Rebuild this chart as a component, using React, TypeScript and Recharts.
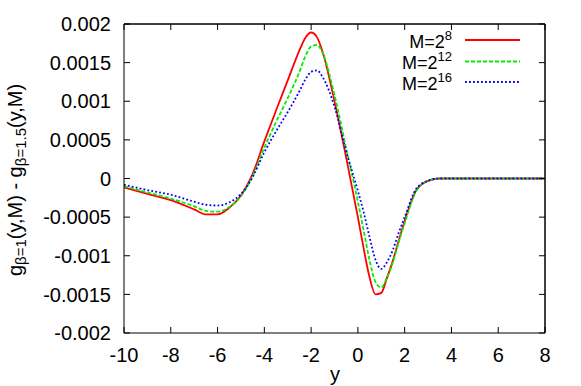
import React from 'react';
import { LineChart, Line, XAxis, YAxis, CartesianGrid } from 'recharts';

// sample positions along the horizontal axis (labelled "y" in the figure)
const yValues = [-10, -9, -8, -7, -6.5, -6, -5.5, -5, -4.5, -4, -3.5, -3, -2.5, -2.25, -2, -1.75, -1.5, -1, -0.5, 0, 0.25, 0.5, 0.75, 1, 1.25, 1.5, 1.75, 2, 2.5, 3, 3.5, 4, 5, 6, 7, 8];

const m8 = [-0.000115, -0.0002, -0.00028, -0.0004, -0.000465, -0.000465, -0.00038, -0.00022, 0.00006, 0.00048, 0.00088, 0.00127, 0.00166, 0.00182, 0.00189, 0.00183, 0.00163, 0.001, 0.00027, -0.0005, -0.00091, -0.00128, -0.0015, -0.00148, -0.00128, -0.00106, -0.0008, -0.00055, -0.00015, -0.00003, 0, 0, 0, 0, 0, 0];
const m12 = [-0.0001, -0.00018, -0.00026, -0.00036, -0.00042, -0.00043, -0.00037, -0.00023, 0.00003, 0.0004, 0.00073, 0.00104, 0.00138, 0.00158, 0.00171, 0.00173, 0.00162, 0.00108, 0.00039, -0.0003, -0.00068, -0.00106, -0.00134, -0.00141, -0.00128, -0.00108, -0.00082, -0.00058, -0.00016, -0.00003, 0, 0, 0, 0, 0, 0];
const m16 = [-0.00008, -0.00015, -0.00021, -0.0003, -0.00034, -0.00035, -0.00031, -0.0002, 0.00002, 0.00034, 0.00061, 0.00086, 0.00113, 0.00128, 0.00138, 0.0014, 0.00131, 0.00093, 0.00035, -0.00016, -0.00044, -0.00076, -0.00105, -0.00117, -0.00108, -0.00092, -0.0007, -0.0005, -0.00013, -0.00003, 0, 0, 0, 0, 0, 0];

const xTicks = [-10, -8, -6, -4, -2, 0, 2, 4, 6, 8];
const yTicks = [-0.002, -0.0015, -0.001, -0.0005, 0, 0.0005, 0.001, 0.0015, 0.002];

const data = yValues.map((y, i) => ({ y, m8: m8[i], m12: m12[i], m16: m16[i] }));

const W = 581, H = 386;
const MARGIN = { top: 24, right: 36, bottom: 0, left: 123 };
const Y_AXIS_W = 1;
const X_AXIS_H = 53;
const PLOT_X = MARGIN.left + Y_AXIS_W;
const PLOT_Y = MARGIN.top;
const PLOT_W = W - PLOT_X - MARGIN.right;
const PLOT_H = H - MARGIN.top - X_AXIS_H;

const font = '"Liberation Sans", Arial, sans-serif';
const FS = 20;
const TICK = 6;
const BOTTOM_GAP = 15;
const LEFT_GAP = 13;

// gnuplot style: ticks point into the plot and are mirrored on top / right
const BottomTick = (p: any) => {
  const base = p.y - BOTTOM_GAP;
  return (
    <g>
      <line x1={p.x} x2={p.x} y1={base} y2={base - TICK} stroke="#000" />
      <line x1={p.x} x2={p.x} y1={base - PLOT_H} y2={base - PLOT_H + TICK} stroke="#000" />
      <text x={p.x} y={p.y} dy="0.72em" textAnchor="middle" fontSize={FS} fontFamily={font} fill="#000">{p.payload.value}</text>
    </g>
  );
};
const LeftTick = (p: any) => {
  const base = p.x + LEFT_GAP;
  return (
    <g>
      <line x1={base} x2={base + TICK} y1={p.y} y2={p.y} stroke="#000" />
      <line x1={base + PLOT_W} x2={base + PLOT_W - TICK} y1={p.y} y2={p.y} stroke="#000" />
      <text x={p.x} y={p.y} dy="0.36em" textAnchor="end" fontSize={FS} fontFamily={font} fill="#000">{p.payload.value}</text>
    </g>
  );
};

export default function App() {
  return (
    <div style={{ position: 'absolute', left: 0, top: 0, width: W, height: H, background: '#fff' }}>
      <LineChart width={W} height={H} data={data} margin={MARGIN}>
        <CartesianGrid
          stroke="#000"
          strokeDasharray=""
          horizontalPoints={[PLOT_Y]}
          verticalPoints={[PLOT_X + PLOT_W]}
        />
        <XAxis
          dataKey="y"
          type="number"
          domain={[-10, 8]}
          ticks={xTicks}
          height={X_AXIS_H}
          tick={<BottomTick />}
          tickLine={false}
          tickSize={0}
          tickMargin={BOTTOM_GAP}
          axisLine={{ stroke: '#000' }}
          interval={0}
        />
        <YAxis
          type="number"
          domain={[-0.002, 0.002]}
          ticks={yTicks}
          width={Y_AXIS_W}
          tick={<LeftTick />}
          tickLine={false}
          tickSize={0}
          tickMargin={LEFT_GAP}
          axisLine={{ stroke: '#000' }}
          interval={0}
          allowDataOverflow
        />
        <Line dataKey="m8" type="monotone" stroke="#ff0000" strokeWidth={1.8} dot={false} isAnimationActive={false} />
        <Line dataKey="m12" type="monotone" stroke="#00ee00" strokeWidth={1.8} strokeDasharray="4 2" dot={false} isAnimationActive={false} />
        <Line dataKey="m16" type="monotone" stroke="#0000ff" strokeWidth={1.8} strokeDasharray="1.8 2.2" dot={false} isAnimationActive={false} />
      </LineChart>
      <svg width={W} height={H} style={{ position: 'absolute', left: 0, top: 0, pointerEvents: 'none' }}>
        <line x1={PLOT_X} x2={PLOT_X + PLOT_W} y1={PLOT_Y} y2={PLOT_Y} stroke="#000" strokeWidth={1} />
        <line x1={PLOT_X + PLOT_W} x2={PLOT_X + PLOT_W} y1={PLOT_Y} y2={PLOT_Y + PLOT_H} stroke="#000" strokeWidth={1} />
        <g fontFamily={font} fill="#000">
          <text x={452} y={48} fontSize={18} textAnchor="end">M=2<tspan dy={-8} fontSize={13}>8</tspan></text>
          <text x={452} y={69} fontSize={18} textAnchor="end">M=2<tspan dy={-8} fontSize={13}>12</tspan></text>
          <text x={452} y={90} fontSize={18} textAnchor="end">M=2<tspan dy={-8} fontSize={13}>16</tspan></text>
          <text x={335} y={381} fontSize={FS} textAnchor="middle">y</text>
          <text transform="translate(22,180) rotate(-90)" fontSize={FS} textAnchor="middle">
            g<tspan dy={4} fontSize={15}>β=1</tspan><tspan dy={-4}>(y,M) - g</tspan><tspan dy={4} fontSize={15}>β=1.5</tspan><tspan dy={-4}>(y,M)</tspan>
          </text>
        </g>
        <line x1={465} x2={520} y1={40} y2={40} stroke="#ff0000" strokeWidth={1.8} />
        <line x1={465} x2={520} y1={61.5} y2={61.5} stroke="#00ee00" strokeWidth={1.8} strokeDasharray="4 2" />
        <line x1={465} x2={520} y1={82} y2={82} stroke="#0000ff" strokeWidth={1.8} strokeDasharray="1.8 2.2" />
      </svg>
    </div>
  );
}
